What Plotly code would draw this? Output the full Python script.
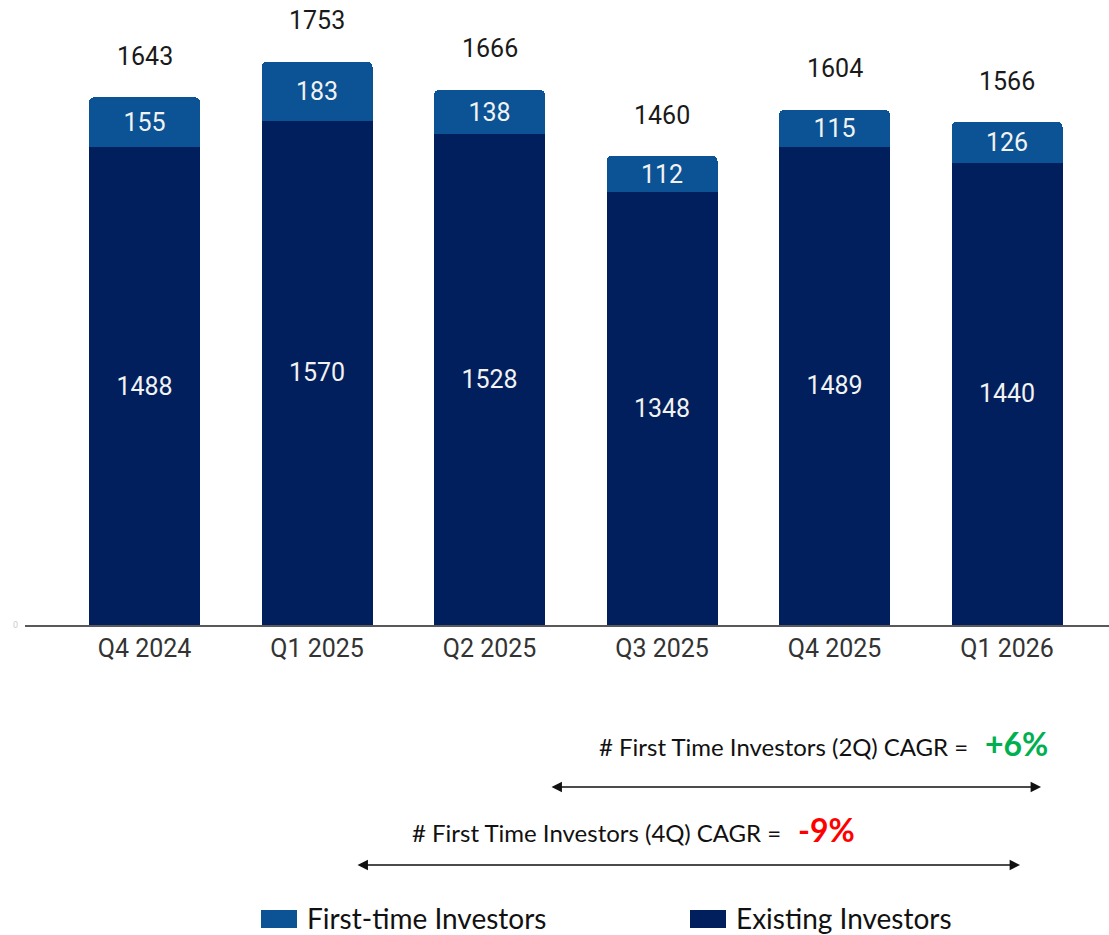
import plotly.graph_objects as go

# Quarterly investor counts
quarters = ["Q4 2024", "Q1 2025", "Q2 2025", "Q3 2025", "Q4 2025", "Q1 2026"]
existing = [1488, 1570, 1528, 1348, 1489, 1440]
first_time = [155, 183, 138, 112, 115, 126]
totals = [e + f for e, f in zip(existing, first_time)]

# CAGR callouts: (label, value, colour)
cagr_2q = ("# First Time Investors (2Q) CAGR =", "+6%", "#00B050")
cagr_4q = ("# First Time Investors (4Q) CAGR =", "-9%", "#FF0000")

C_FIRST = "#0B5394"
C_EXIST = "#001F5C"

W, H = 1109, 935
ML, MR, MT, MB = 25, 0, 0, 310
PW, PH = W - ML - MR, H - MT - MB
Y_MAX = 1946

xpos = list(range(len(quarters)))
bar_font = dict(family="Roboto", size=25, color="#F2F2F2")

fig = go.Figure()
fig.add_trace(go.Bar(
    x=xpos, y=existing, name="Existing Investors", marker_color=C_EXIST,
    marker_line_width=0,
    text=[str(v) for v in existing], textposition="inside",
    insidetextanchor="middle", textangle=0, insidetextfont=bar_font,
    showlegend=False,
))
fig.add_trace(go.Bar(
    x=xpos, y=first_time, name="First-time Investors", marker_color=C_FIRST,
    marker_line_width=0,
    text=[str(v) for v in first_time], textposition="inside",
    insidetextanchor="middle", textangle=0, insidetextfont=bar_font,
    showlegend=False,
))

annotations = []
# Total labels above each stack
for i, t in enumerate(totals):
    annotations.append(dict(
        x=i, y=t, xref="x", yref="y", text=str(t), showarrow=False,
        yshift=41, yanchor="middle",
        font=dict(family="Roboto", size=25, color="#1A1A1A"),
    ))

# pixel helpers for positions below the plot area
def px_x(p):
    return (p - ML) / PW

def px_y(p):
    return (MT + PH - p) / PH

def cat_x(p):
    # convert a horizontal pixel position to category units
    return (p - 144.5) / 172.5

label_font = dict(family="Lato", size=24, color="#111111")

for (label, val, col), text_right, text_y, a0, a1, ay in [
    (cagr_2q, 970, 746, 550, 1041, 787),
    (cagr_4q, 783, 832, 356, 1020, 865),
]:
    annotations.append(dict(
        x=px_x(text_right), y=px_y(text_y), xref="paper", yref="paper",
        xanchor="right", yanchor="middle", showarrow=False,
        text=label, font=label_font,
    ))
    annotations.append(dict(
        x=px_x(text_right + 13), y=px_y(text_y - 3), xref="paper", yref="paper",
        xanchor="left", yanchor="middle", showarrow=False,
        text="<b>" + val + "</b>",
        font=dict(family="Lato", size=32, color=col),
    ))
    annotations.append(dict(
        x=cat_x(a1), y=px_y(ay), xref="x", yref="paper",
        ax=cat_x(a0), ay=0, axref="x", ayref="pixel",
        showarrow=True, arrowside="end+start",
        arrowhead=2, startarrowhead=2, arrowsize=1.3, startarrowsize=1.3,
        arrowwidth=1.6, arrowcolor="#111111", text="",
    ))

# Legend drawn as swatches and labels
shapes = []
legend_items = [("First-time Investors", C_FIRST, 261), ("Existing Investors", C_EXIST, 690)]
for name, col, x0 in legend_items:
    shapes.append(dict(
        type="rect", xref="paper", yref="paper",
        x0=px_x(x0), x1=px_x(x0 + 36), y0=px_y(928), y1=px_y(910),
        fillcolor=col, line=dict(width=0),
    ))
    annotations.append(dict(
        x=px_x(x0 + 44), y=px_y(918), xref="paper", yref="paper",
        xanchor="left", yanchor="middle", showarrow=False, text=name,
        font=dict(family="Lato", size=28, color="#111111"),
    ))

fig.update_layout(
    width=W, height=H,
    margin=dict(l=ML, r=MR, t=MT, b=MB, pad=0),
    barmode="stack", bargap=0.356, barcornerradius=5,
    plot_bgcolor="white", paper_bgcolor="white",
    annotations=annotations, shapes=shapes,
    showlegend=False,
    xaxis=dict(
        tickmode="array", tickvals=xpos, ticktext=quarters,
        range=[-0.693, 5.591], showgrid=False, zeroline=False,
        showline=True, linecolor="#595959", linewidth=2, ticks="",
        tickfont=dict(family="Roboto", size=25, color="#333333"),
        ticklabelstandoff=0,
    ),
    yaxis=dict(
        range=[0, Y_MAX], showgrid=False, zeroline=False, showline=False,
        tickmode="array", tickvals=[0], ticktext=["0"], ticks="",
        tickfont=dict(family="Roboto", size=9, color="#CCCCCC"),
        ticklabelstandoff=6,
    ),
)

fig.write_html("out.html")
